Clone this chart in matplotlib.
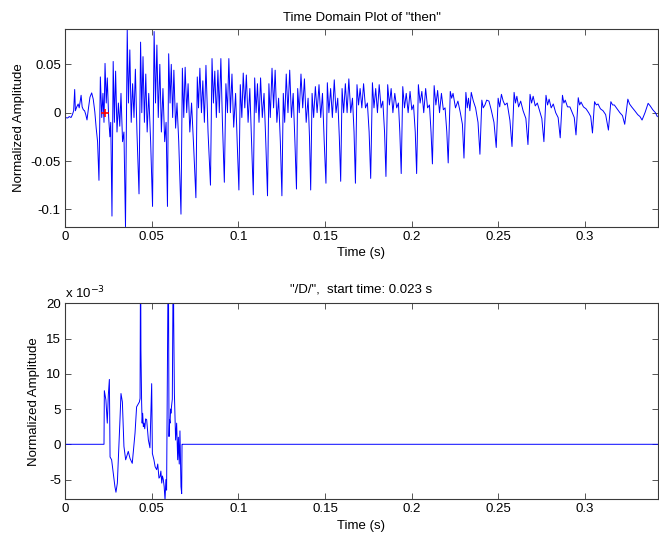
"""Time-domain plot of the word "then" and the isolated /D/ segment."""

import matplotlib
matplotlib.use("Agg")
import matplotlib.pyplot as plt

plt.rcParams["font.family"] = ["Liberation Sans", "DejaVu Sans"]
plt.rcParams["font.size"] = 9.5

# ---- upper panel: waveform vertices (time in ms) ----
wave_t_ms = [
    0, 1.5, 2.5, 3.5, 4.3, 5.0, 5.6, 6.0, 6.8, 7.6, 8.2, 8.8, 9.3, 9.9, 10.6,
    11.3, 12.0, 12.7, 13.5, 14.4, 15.4, 16.3, 17.2, 18.0, 18.8, 19.6,
    20.4, 21.2, 21.9, 22.5, 23.1, 23.8, 24.4, 25.2, 25.9, 26.4, 27.1,
    27.8, 28.5, 29.2, 30.0, 30.8, 31.6, 32.3, 33.2, 34.0, 34.9,
    35.9, 36.6, 37.4, 38.2, 39.0, 39.8, 40.6, 41.5, 42.7,
    43.6, 44.3, 45.0, 45.8, 46.6, 47.4, 48.3, 49.4, 50.5,
    51.4, 52.2, 53.0, 53.8, 54.7, 55.6, 56.5, 57.5, 58.3, 59.1,
    59.8, 60.6, 61.3, 62.1, 62.8, 63.8, 64.6, 65.6, 66.9,
    67.7, 68.5, 69.3, 70.2, 71.0, 72.0, 73.0, 74.2, 75.5,
    76.3, 77.0, 77.8, 78.7, 79.5, 80.4, 81.3, 82.5, 83.9,
    84.8, 85.6, 86.4, 87.3, 88.2, 89.0, 89.9, 90.8, 91.9,
    92.8, 93.7, 94.5, 95.4, 96.3, 97.3, 98.4, 99.3, 100.3,
    101.1, 102.0, 102.8, 103.7, 104.6, 105.6, 106.6, 107.6, 108.6,
    109.4, 110.2, 111.0, 111.9, 112.8, 113.8, 114.8, 115.8, 116.8,
    117.6, 118.4, 119.4, 120.3, 121.2, 122.2, 123.2, 124.2, 125.1,
    125.9, 126.7, 127.6, 128.6, 129.6, 130.6, 131.6, 132.6, 133.5,
    134.2, 135.1, 136.1, 137.1, 138.1, 139.1, 140.2, 141.0, 141.7,
    142.5, 143.4, 144.4, 145.4, 146.5, 147.5, 148.5, 149.5, 150.5,
    151.3, 152.2, 153.2, 154.2, 155.3, 156.3, 157.3, 158.2, 159.0,
    159.8, 160.7, 161.7, 162.7, 163.7, 164.8, 165.8, 166.7, 167.5,
    168.4, 169.3, 170.2, 171.2, 172.2, 173.3, 174.4, 175.4, 176.3,
    177.3, 178.2, 179.2, 180.2, 181.2, 182.3, 183.3, 184.3, 185.1,
    186.1, 187.1, 188.1, 189.1, 190.2, 191.3, 192.3, 193.1, 193.9,
    194.8, 195.8, 196.8, 197.9, 199.0, 200.0, 201.0, 202.0, 202.8,
    203.8, 204.8, 205.8, 206.9, 208.0, 209.1, 210.2, 211.1, 211.9,
    212.9, 213.9, 214.9, 216.0, 217.1, 218.2, 219.2, 220.2, 221.0,
    222.2, 223.0, 223.8, 225.2, 226.6, 228.0, 229.2, 230.1,
    231.2, 232.0, 232.7, 233.5, 234.3, 235.5, 236.8, 238.2, 239.3,
    240.4, 241.2, 242.2, 243.2, 244.5, 245.8, 247.4, 248.7,
    249.8, 250.7, 251.7, 252.7, 253.7, 255.0, 256.6, 257.8,
    259.0, 259.8, 260.6, 261.6, 262.8, 264.2, 265.8, 267.0,
    268.2, 269.1, 270.0, 271.2, 272.4, 273.7, 275.0, 276.2,
    277.4, 278.3, 279.2, 280.4, 281.6, 283.0, 284.4, 285.6,
    286.9, 287.7, 288.5, 289.8, 291.2, 292.6, 293.7, 294.7,
    296.0, 296.8, 297.6, 299.0, 300.5, 302.0, 303.2, 304.2,
    305.4, 306.4, 307.4, 308.8, 310.3, 311.8, 313.4,
    314.8, 315.8, 316.8, 318.4, 320.0, 321.5, 322.8,
    324.6, 325.6, 326.8, 328.6, 330.3, 331.6, 332.8,
    334.5, 336.3, 337.5, 339.0, 340.5, 341.6,
]
wave_y = [
    -0.005, -0.0055, -0.004, -0.005, -0.002, 0.002, 0.024, 0.002, 0.006, 0.009,
    0.005, 0.012, 0.018, 0.006, 0.003, 0.002, -0.002, -0.0075, 0.004, 0.016,
    0.0205, 0.014, 0.001, -0.016, -0.03, -0.070,
    0.037, -0.005, 0.02, -0.01, 0.051, 0.01, 0.036, -0.005, -0.025, -0.01, -0.107,
    0.053, -0.01, 0.043, -0.02, 0.01, -0.014, 0.02, -0.03, -0.02, -0.118,
    0.0856, 0.01, 0.065, -0.01, 0.03, -0.005, 0.045, -0.02, -0.084,
    0.073, 0.0, 0.058, -0.01, 0.04, -0.02, 0.02, -0.03, -0.097,
    0.084, 0.01, 0.07, -0.005, 0.05, -0.02, 0.025, -0.03, -0.01, -0.097,
    0.061, 0.01, 0.05, -0.005, 0.044, -0.016, 0.01, -0.03, -0.105,
    0.046, -0.005, 0.047, 0.0, 0.03, -0.02, 0.01, -0.035, -0.088,
    0.037, 0.005, 0.046, 0.0, 0.033, -0.01, 0.049, -0.02, -0.075,
    0.056, 0.01, 0.043, -0.005, 0.044, 0.0, 0.056, -0.01, -0.072,
    0.03, 0.0, 0.056, 0.0, 0.04, -0.015, 0.02, -0.03, -0.080,
    0.029, -0.005, 0.041, 0.005, 0.039, -0.01, 0.025, -0.03, -0.085,
    0.036, 0.0, 0.03, -0.01, 0.036, -0.005, 0.02, -0.03, -0.086,
    0.03, -0.005, 0.046, 0.005, 0.044, -0.01, 0.015, -0.03, -0.086,
    0.02, -0.01, 0.04, 0.0, 0.044, -0.005, 0.02, -0.03, -0.079,
    0.025, 0.0, 0.04, 0.005, 0.035, -0.01, 0.015, -0.025, -0.080,
    0.02, -0.005, 0.027, 0.0, 0.029, -0.005, 0.02, -0.03, -0.073,
    0.031, 0.0, 0.025, -0.005, 0.034, 0.0, 0.015, -0.025, -0.071,
    0.025, 0.0, 0.03, 0.0, 0.035, 0.0, 0.015, -0.02, -0.073,
    0.029, 0.008, 0.025, 0.005, 0.03, 0.005, 0.01, -0.02, -0.068,
    0.031, 0.005, 0.025, 0.0, 0.029, 0.005, 0.012, -0.02, -0.066,
    0.029, 0.008, 0.025, 0.0, 0.02, 0.005, 0.01, -0.02, -0.063,
    0.027, 0.005, 0.02, 0.0, 0.022, 0.003, 0.008, -0.02, -0.063,
    0.029, 0.01, 0.022, 0.0, 0.025, 0.005, 0.008, -0.02, -0.053,
    0.028, 0.008, 0.023, 0.0, 0.02, 0.003, 0.005, -0.02, -0.052,
    0.022, 0.015, 0.02, 0.005, 0.012, 0.0, -0.012, -0.047,
    0.021, 0.005, 0.015, 0.002, 0.021, 0.012, 0.005, -0.01, -0.043,
    0.013, 0.005, 0.008, 0.013, 0.012, 0.003, -0.01, -0.036,
    0.015, 0.006, 0.019, 0.012, 0.008, 0.01, -0.008, -0.035,
    0.021, 0.01, 0.017, 0.006, 0.012, 0.002, -0.006, -0.033,
    0.019, 0.01, 0.017, 0.007, 0.01, 0.002, -0.006, -0.030,
    0.018, 0.008, 0.014, 0.005, 0.009, 0.0, -0.005, -0.026,
    0.018, 0.01, 0.013, 0.006, 0.006, 0.0, -0.005, -0.023,
    0.0155, 0.008, 0.011, 0.006, 0.004, 0.0, -0.004, -0.021,
    0.0114, 0.008, 0.009, 0.004, 0.002, -0.002, -0.018,
    0.0114, 0.008, 0.008, 0.004, 0.0, -0.003, -0.012,
    0.014, 0.009, 0.006, 0.002, -0.002, -0.004, -0.0076,
    0.0, 0.0097, 0.007, 0.003, 0.0, -0.004,
]

# start-time marker
start_t = 0.023

# ---- lower panel: isolated /D/ segment (time in ms, amplitude x 1e-3) ----
seg_t_ms = [
    0, 22.5, 22.7, 23.6, 24.4, 25.0, 25.6, 26.0, 26.9, 28.8, 29.4, 30.2, 31.7,
    32.3, 33.1, 34.0, 35.0, 36.5, 37.5, 38.8, 40.4, 41.3, 42.9, 43.3, 43.6,
    43.8, 44.2, 44.5, 44.8, 45.2, 45.6, 46.0, 46.5, 47.1, 48.1, 49.0, 50.0,
    50.4, 51.3, 52.0, 52.9, 53.5, 54.2, 54.8, 55.3, 55.8, 56.2, 56.7, 57.2,
    57.7, 58.2, 58.6, 59.6, 60.0, 60.3, 60.6, 60.9, 61.1, 61.5, 61.9, 62.5,
    62.7, 63.1, 63.8, 64.4, 65.0, 65.4, 65.9, 66.3, 66.9, 67.3, 67.5, 67.7,
    342.0,
]
seg_y_e3 = [
    0, 0, 7.6, 6.3, 3.0, 7.0, 9.2, -1.8, -2.2, -6.0, -6.8, -5.5, 3.4,
    7.2, 6.0, -0.3, -2.2, -1.0, -2.0, -2.7, 1.6, 5.3, 6.0, 6.5, 30.0,
    13.4, 6.0, 3.0, 4.4, 2.5, 3.0, 2.2, 3.6, 3.5, 0.6, -0.5, 8.6,
    -1.3, -2.2, -3.2, -3.6, -2.8, -4.8, -4.6, -3.8, -5.5, -4.5, -5.0, -6.0,
    -7.9, -5.0, -6.5, 30.0, 1.1, 3.5, 3.0, 5.0, 4.4, 5.5, 6.4, 30.0,
    17.6, 7.2, 0.6, 3.0, -2.2, 1.0, -2.8, 1.9, -6.0, -7.0, 0.0, 0.0,
    0.0,
]

xticks = [0, 0.05, 0.1, 0.15, 0.2, 0.25, 0.3]
xtick_labels = ["0", "0.05", "0.1", "0.15", "0.2", "0.25", "0.3"]
top_yticks = [-0.1, -0.05, 0, 0.05]
top_ytick_labels = ["-0.1", "-0.05", "0", "0.05"]
bot_yticks = [-5, 0, 5, 10, 15, 20]
bot_ytick_labels = ["-5", "0", "5", "10", "15", "20"]

FRAME = "#3a3a3a"
FS = 9.5


def style(ax):
    for sp in ax.spines.values():
        sp.set_color(FRAME)
        sp.set_linewidth(0.8)
    ax.tick_params(direction="in", length=4, width=0.6, color=FRAME,
                   top=True, right=True, pad=3, labelsize=FS)
    ax.set_xticks(xticks)
    ax.set_xticklabels(xtick_labels)
    ax.set_xlim(0, 0.342)


def main():
    fig = plt.figure(figsize=(6.59, 5.44), dpi=100)
    ax1 = fig.add_axes([0.0986, 0.5827, 0.8999, 0.3640])
    ax2 = fig.add_axes([0.0986, 0.0822, 0.8999, 0.3603])

    ax1.plot([t / 1000 for t in wave_t_ms], wave_y, color="#0000ff", lw=0.7)
    ax1.plot([start_t], [0], "+", color="red", ms=6, mew=1.2, zorder=4)
    style(ax1)
    ax1.set_ylim(-0.1183, 0.0866)
    ax1.set_yticks(top_yticks)
    ax1.set_yticklabels(top_ytick_labels)
    ax1.set_title('Time Domain Plot of "then"', fontsize=FS, pad=6)
    ax1.set_xlabel("Time (s)", fontsize=FS, labelpad=3)
    ax1.set_ylabel("Normalized Amplitude", fontsize=FS, labelpad=4)

    ax2.plot([t / 1000 for t in seg_t_ms], seg_y_e3, color="#0000ff", lw=0.7)
    style(ax2)
    ax2.set_ylim(-7.8, 20)
    ax2.set_yticks(bot_yticks)
    ax2.set_yticklabels(bot_ytick_labels)
    ax2.set_title('"/D/",  start time: 0.023 s', fontsize=FS, pad=8)
    ax2.set_xlabel("Time (s)", fontsize=FS, labelpad=3)
    ax2.set_ylabel("Normalized Amplitude", fontsize=FS, labelpad=4)
    ax2.text(0.0, 1.012, r"x 10$^{-3}$", transform=ax2.transAxes,
             ha="left", va="bottom", fontsize=FS)

    fig.savefig("out.png", dpi=100)


if __name__ == "__main__":
    main()
